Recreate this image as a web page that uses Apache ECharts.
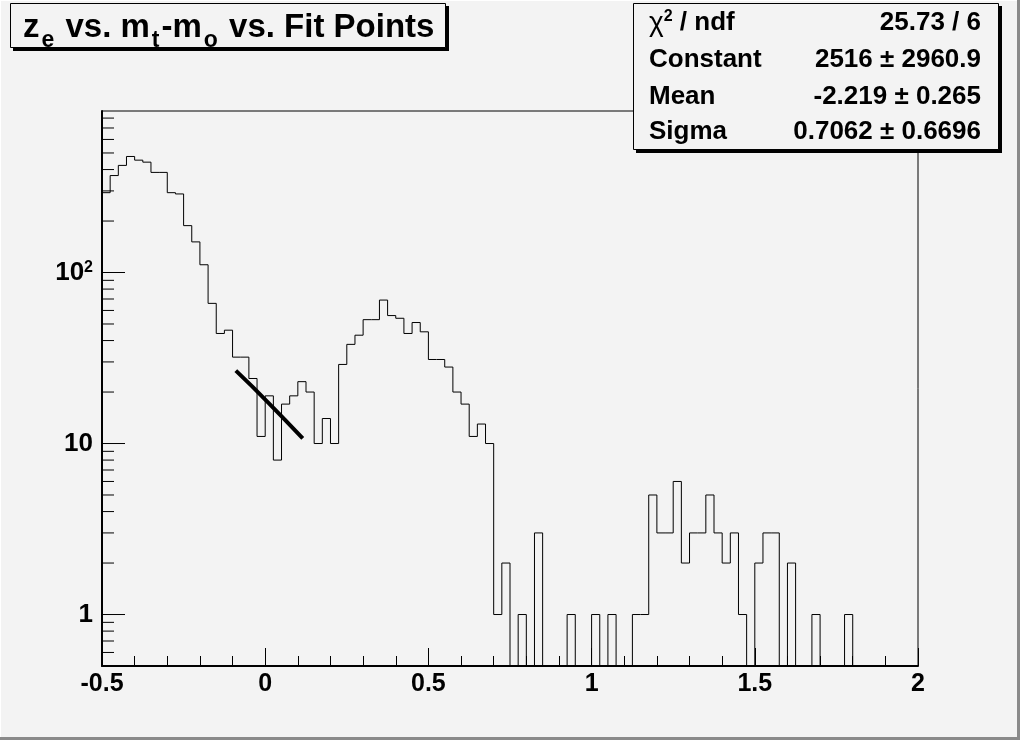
<!DOCTYPE html>
<html><head><meta charset="utf-8">
<script src="https://cdn.jsdelivr.net/npm/echarts@6.0.0/dist/echarts.min.js"></script>
<style>html,body{margin:0;padding:0;background:#f3f3f3}#c{width:1020px;height:740px}</style>
</head><body><div id="c"></div><script>
// ---- data ----
const xMin = -0.5, xMax = 2.0, binWidth = 0.025;
const yMin = 0.5, yMax = 880;
const counts = [
  293, 369, 423, 477, 454, 442, 385, 385, 293, 288,
  188, 151, 111, 66, 44, 46, 32, 32, 24, 11,
  19, 8, 17, 19, 23, 20, 10, 14, 10, 29,
  38, 43, 53, 53, 69, 56, 54, 44, 51, 45,
  31, 31, 28, 20, 17, 11, 13, 10, 1, 2,
  0, 1, 0, 3, 0, 0, 0, 1, 0, 0,
  1, 0, 1, 0, 0, 1, 1, 5, 3, 3,
  6, 2, 3, 3, 5, 3, 2, 3, 1, 0,
  2, 3, 3, 0, 2, 0, 0, 1, 0, 0,
  0, 1, 0, 0, 0, 0, 0, 0, 0, 0
];
const fitX = [-0.09, -0.04, 0.01, 0.06, 0.115];
const fitY = [26.7, 21.6, 17.3, 13.8, 10.7];
const yMajorTicks = [1, 10, 100];
const yMinorTicks = [0.6, 0.7, 0.8, 0.9, 2, 3, 4, 5, 6, 7, 8, 9, 20, 30, 40, 50, 60, 70, 80, 90, 200, 300, 400, 500, 600, 700, 800];
const statsLabels = ['{g|χ}{s|2}{n| / ndf}', '{n|Constant}', '{n|Mean}', '{n|Sigma}'];
const statsValues = ['25.73 / 6', '2516 ± 2960.9', '-2.219 ± 0.265', '0.7062 ± 0.6696'];
const titleParts = [
  ['z', 'main'], ['e', 'sub'], [' vs. m', 'main'], ['t', 'sub'],
  ['-m', 'main'], ['o', 'sub'], [' vs. Fit Points', 'main']
];

// ---- build ----
const BG = '#f3f3f3';
const FONT = '"Liberation Sans", Arial, Helvetica, sans-serif';
const histData = counts.map((c, i) => [xMin + i * binWidth, xMin + (i + 1) * binWidth, c, i > 0 ? counts[i - 1] : 0]);

const chart = echarts.init(document.getElementById('c'), null, {renderer: 'canvas'});

const mctx = document.createElement('canvas').getContext('2d');
const mainFont = 'bold 33px ' + FONT, subFont = 'bold 23px ' + FONT;
let tx = 23;
const titleGraphics = [];
titleParts.forEach(([t, kind]) => {
  const f = kind === 'main' ? mainFont : subFont;
  mctx.font = f;
  if (kind === 'sub') tx += 2;
  titleGraphics.push({
    type: 'text', x: tx, y: kind === 'main' ? 44 : 52,
    style: {text: t, font: f, fill: '#000', align: 'left', verticalAlign: 'bottom'},
    z: 20
  });
  tx += mctx.measureText(t).width;
  if (kind === 'sub') tx += 2;
});

const rowY = [23, 60, 97, 132];
const statGraphics = [];
const richStats = {
  n: {fontSize: 26, fontWeight: 'bold', fontFamily: FONT, color: '#000', lineHeight: 28},
  g: {fontSize: 28, fontFamily: FONT, color: '#000', lineHeight: 28},
  s: {fontSize: 16, fontWeight: 'bold', fontFamily: FONT, color: '#000', lineHeight: 28, verticalAlign: 'top', padding: [0, 0, 8, 0]}
};
statsLabels.forEach((lab, i) => {
  statGraphics.push({type: 'text', x: 649, y: rowY[i], style: {text: lab, rich: richStats, fill: '#000', align: 'left', verticalAlign: 'middle'}, z: 20});
  statGraphics.push({type: 'text', x: 981, y: rowY[i], style: {text: statsValues[i], font: 'bold 26px ' + FONT, fill: '#000', align: 'right', verticalAlign: 'middle'}, z: 20});
});

function tickSeries(vals, len) {
  return {
    type: 'custom', silent: true, clip: false, z: 5,
    data: vals.map(v => [xMin, v]),
    encode: {x: 0, y: 1},
    renderItem: function (params, api) {
      const p = api.coord([api.value(0), api.value(1)]);
      return {type: 'line', shape: {x1: p[0], y1: p[1], x2: p[0] + len, y2: p[1]}, style: {stroke: '#000', lineWidth: 1}};
    }
  };
}

const option = {
  backgroundColor: BG,
  animation: false,
  grid: {left: 102, right: 102, top: 111, bottom: 74, show: true, borderColor: '#000', borderWidth: 1, backgroundColor: BG},
  xAxis: {
    type: 'value', min: xMin, max: xMax, interval: 0.5,
    axisLine: {show: true, onZero: false, lineStyle: {color: '#000', width: 2}},
    axisTick: {show: true, inside: true, length: 18, lineStyle: {color: '#000', width: 1}},
    minorTick: {show: true, splitNumber: 5, length: 10, lineStyle: {color: '#000', width: 1}},
    splitLine: {show: false},
    axisLabel: {color: '#000', fontSize: 25, fontWeight: 'bold', fontFamily: FONT, margin: 6}
  },
  yAxis: {
    type: 'log', logBase: 10, min: yMin, max: yMax,
    axisLine: {show: true, onZero: false, lineStyle: {color: '#000', width: 2}},
    axisTick: {show: false},
    splitLine: {show: false},
    axisLabel: {
      color: '#000', fontSize: 26, fontWeight: 'bold', fontFamily: FONT, margin: 9,
      showMinLabel: false, showMaxLabel: false,
      formatter: function (v) {
        if (Math.abs(v - 100) < 1e-6) return '{m|10}{sup|2}';
        if (Math.abs(v - 10) < 1e-6) return '{m|10}';
        if (Math.abs(v - 1) < 1e-6) return '{m|1}';
        return '';
      },
      rich: {
        m: {fontSize: 26, fontWeight: 'bold', fontFamily: FONT, color: '#000', lineHeight: 26},
        sup: {fontSize: 16, fontWeight: 'bold', fontFamily: FONT, color: '#000', verticalAlign: 'top', lineHeight: 16}
      }
    }
  },
  series: [
    {
      type: 'custom', silent: true, z: 3,
      data: histData,
      encode: {x: [0, 1], y: 2},
      renderItem: function (params, api) {
        const xlo = api.value(0), xhi = api.value(1);
        const c = Math.max(api.value(2), yMin), p = Math.max(api.value(3), yMin);
        const a = api.coord([xlo, p]), b = api.coord([xlo, c]), d = api.coord([xhi, c]);
        return {type: 'polyline', shape: {points: [a, b, d]}, style: {stroke: '#000', lineWidth: 1, fill: null}};
      }
    },
    {
      type: 'line', z: 6, silent: true, showSymbol: false,
      data: fitX.map((x, i) => [x, fitY[i]]),
      lineStyle: {color: '#000', width: 4}
    },
    tickSeries(yMajorTicks, 23),
    tickSeries(yMinorTicks, 12)
  ],
  graphic: [
    {type: 'line', shape: {x1: 0.5, y1: 0, x2: 0.5, y2: 740}, style: {stroke: '#ffffff', lineWidth: 1}, z: 30},
    {type: 'line', shape: {x1: 0, y1: 0.5, x2: 1020, y2: 0.5}, style: {stroke: '#ffffff', lineWidth: 1}, z: 30},
    {type: 'line', shape: {x1: 1018.5, y1: 0, x2: 1018.5, y2: 740}, style: {stroke: '#8a8a8a', lineWidth: 3}, z: 30},
    {type: 'line', shape: {x1: 0, y1: 738.5, x2: 1020, y2: 738.5}, style: {stroke: '#8a8a8a', lineWidth: 3}, z: 30},
    {type: 'rect', shape: {x: 13, y: 6, width: 436, height: 45}, style: {fill: '#000'}, z: 18},
    {type: 'rect', shape: {x: 10.5, y: 3.5, width: 435, height: 44}, style: {fill: BG, stroke: '#000', lineWidth: 1}, z: 19},
    {type: 'rect', shape: {x: 636, y: 6, width: 366, height: 147}, style: {fill: '#000'}, z: 18},
    {type: 'rect', shape: {x: 633.5, y: 3.5, width: 365, height: 146}, style: {fill: BG, stroke: '#000', lineWidth: 1}, z: 19}
  ].concat(titleGraphics, statGraphics)
};
chart.setOption(option);
</script></body></html>
